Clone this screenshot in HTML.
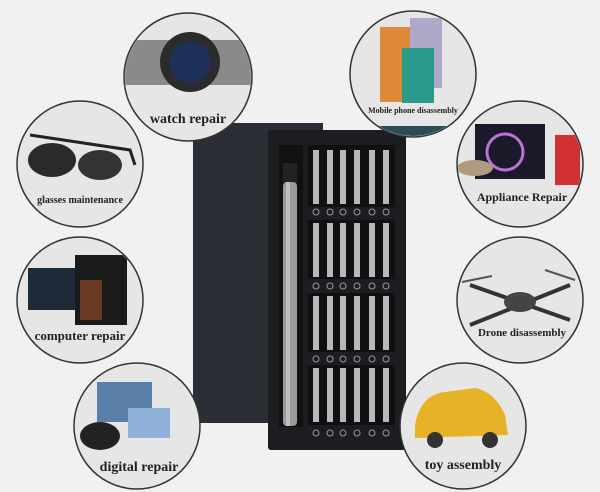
<!DOCTYPE html>
<html><head><meta charset="utf-8"><style>
html,body{margin:0;padding:0;background:#f1f1f1;}
svg{display:block}
text{font-family:"Liberation Serif",serif;font-weight:bold;fill:#222}
</style></head><body>
<svg width="600" height="492" viewBox="0 0 600 492" xmlns="http://www.w3.org/2000/svg">
<defs>
<clipPath id="k1"><circle cx="188" cy="77" r="63"/></clipPath>
<clipPath id="k2"><circle cx="80" cy="164" r="62"/></clipPath>
<clipPath id="k3"><circle cx="80" cy="300" r="62"/></clipPath>
<clipPath id="k4"><circle cx="137" cy="426" r="62"/></clipPath>
<clipPath id="k5"><circle cx="413" cy="74" r="62"/></clipPath>
<clipPath id="k6"><circle cx="520" cy="164" r="62"/></clipPath>
<clipPath id="k7"><circle cx="520" cy="300" r="62"/></clipPath>
<clipPath id="k8"><circle cx="463" cy="426" r="62"/></clipPath>
</defs>
<rect width="600" height="492" fill="#f1f1f1"/>
<!-- lid -->
<rect x="193" y="123" width="110" height="300" fill="#2b2e34"/>
<rect x="193" y="123" width="130" height="8" fill="#2b2e34"/>
<!-- tray -->
<rect x="268" y="130" width="138" height="320" rx="3" fill="#1c1d20"/>
<rect x="279" y="145" width="24" height="282" fill="#111"/>
<rect x="283" y="163" width="14" height="20" fill="#222"/>
<rect x="283" y="182" width="14" height="244" rx="4" fill="#9a9a9a"/>
<rect x="286" y="182" width="4" height="244" fill="#c0c0c0"/>
<g fill="#101012">
<rect x="308" y="145" width="87" height="62"/>
<rect x="308" y="220" width="87" height="59"/>
<rect x="308" y="293" width="87" height="59"/>
<rect x="308" y="365" width="87" height="60"/>
</g>
<g fill="#b8b8b8">
<g id="r1">
<rect x="313" y="150" width="6" height="54"/><rect x="327" y="150" width="6" height="54"/><rect x="340" y="150" width="6" height="54"/><rect x="354" y="150" width="6" height="54"/><rect x="369" y="150" width="6" height="54"/><rect x="383" y="150" width="6" height="54"/>
</g>
<use href="#r1" y="73"/>
<use href="#r1" y="146"/>
<use href="#r1" y="218"/>
</g>
<g fill="none" stroke="#999" stroke-width="1">
<g id="c1"><circle cx="316" cy="212" r="3"/><circle cx="330" cy="212" r="3"/><circle cx="343" cy="212" r="3"/><circle cx="357" cy="212" r="3"/><circle cx="372" cy="212" r="3"/><circle cx="386" cy="212" r="3"/></g>
<use href="#c1" y="74"/><use href="#c1" y="147"/><use href="#c1" y="221"/>
</g>

<g stroke="#333" stroke-width="1.5" fill="#e6e6e6">
<circle cx="188" cy="77" r="64"/>
<circle cx="80" cy="164" r="63"/>
<circle cx="80" cy="300" r="63"/>
<circle cx="137" cy="426" r="63"/>
<circle cx="413" cy="74" r="63"/>
<circle cx="520" cy="164" r="63"/>
<circle cx="520" cy="300" r="63"/>
<circle cx="463" cy="426" r="63"/>
</g>
<g clip-path="url(#k1)">
<rect x="120" y="40" width="140" height="45" fill="#8a8a8a"/>
<circle cx="190" cy="62" r="30" fill="#2b2b2b"/><circle cx="190" cy="62" r="21" fill="#1e3058"/>
</g>
<g clip-path="url(#k2)">
<ellipse cx="52" cy="160" rx="24" ry="17" fill="#2a2a2a"/><ellipse cx="100" cy="165" rx="22" ry="15" fill="#333"/>
<path d="M30 135 L130 150 L135 165" stroke="#222" stroke-width="3" fill="none"/>
</g>
<g clip-path="url(#k3)">
<rect x="28" y="268" width="50" height="42" fill="#1d2a38"/><rect x="75" y="255" width="52" height="70" fill="#1a1a1a"/><rect x="80" y="280" width="22" height="40" fill="#6a3a22"/>
</g>
<g clip-path="url(#k4)">
<rect x="97" y="382" width="55" height="40" fill="#5a7fa8"/><rect x="128" y="408" width="42" height="30" fill="#8fb0d8"/><ellipse cx="100" cy="436" rx="20" ry="14" fill="#222"/>
</g>
<g clip-path="url(#k5)">
<rect x="380" y="27" width="32" height="75" fill="#e0883a"/><rect x="410" y="18" width="32" height="70" fill="#b0a8c8"/><rect x="402" y="48" width="32" height="55" fill="#2a9a8a"/>
<rect x="360" y="126" width="100" height="12" fill="#2d4a55"/>
</g>
<g clip-path="url(#k6)">
<rect x="475" y="124" width="70" height="55" fill="#1a1a2a"/><circle cx="505" cy="152" r="18" fill="none" stroke="#c070d0" stroke-width="3"/><rect x="555" y="135" width="25" height="50" fill="#d03030"/><ellipse cx="475" cy="168" rx="18" ry="8" fill="#b09a80"/>
</g>
<g clip-path="url(#k7)">
<path d="M470 285 L570 320 M470 325 L570 285" stroke="#333" stroke-width="4"/><ellipse cx="520" cy="302" rx="16" ry="10" fill="#444"/>
<line x1="462" y1="282" x2="492" y2="276" stroke="#555" stroke-width="2"/><line x1="545" y1="270" x2="575" y2="280" stroke="#555" stroke-width="2"/>
</g>
<g clip-path="url(#k8)">
<path d="M415 425 Q420 395 445 392 L475 388 Q495 392 505 415 L508 435 L415 438 Z" fill="#e8b228"/><circle cx="435" cy="440" r="8" fill="#333"/><circle cx="490" cy="440" r="8" fill="#333"/>
</g>

<text x="188" y="123" font-size="14" text-anchor="middle">watch repair</text>
<text x="80" y="203" font-size="10" text-anchor="middle">glasses maintenance</text>
<text x="80" y="340" font-size="13" text-anchor="middle">computer repair</text>
<text x="139" y="471" font-size="14" text-anchor="middle">digital repair</text>
<text x="413" y="113" font-size="8" text-anchor="middle">Mobile phone disassembly</text>
<text x="522" y="201" font-size="12" text-anchor="middle">Appliance Repair</text>
<text x="522" y="336" font-size="11" text-anchor="middle">Drone disassembly</text>
<text x="463" y="469" font-size="14" text-anchor="middle">toy assembly</text>
</svg>
</body></html>
